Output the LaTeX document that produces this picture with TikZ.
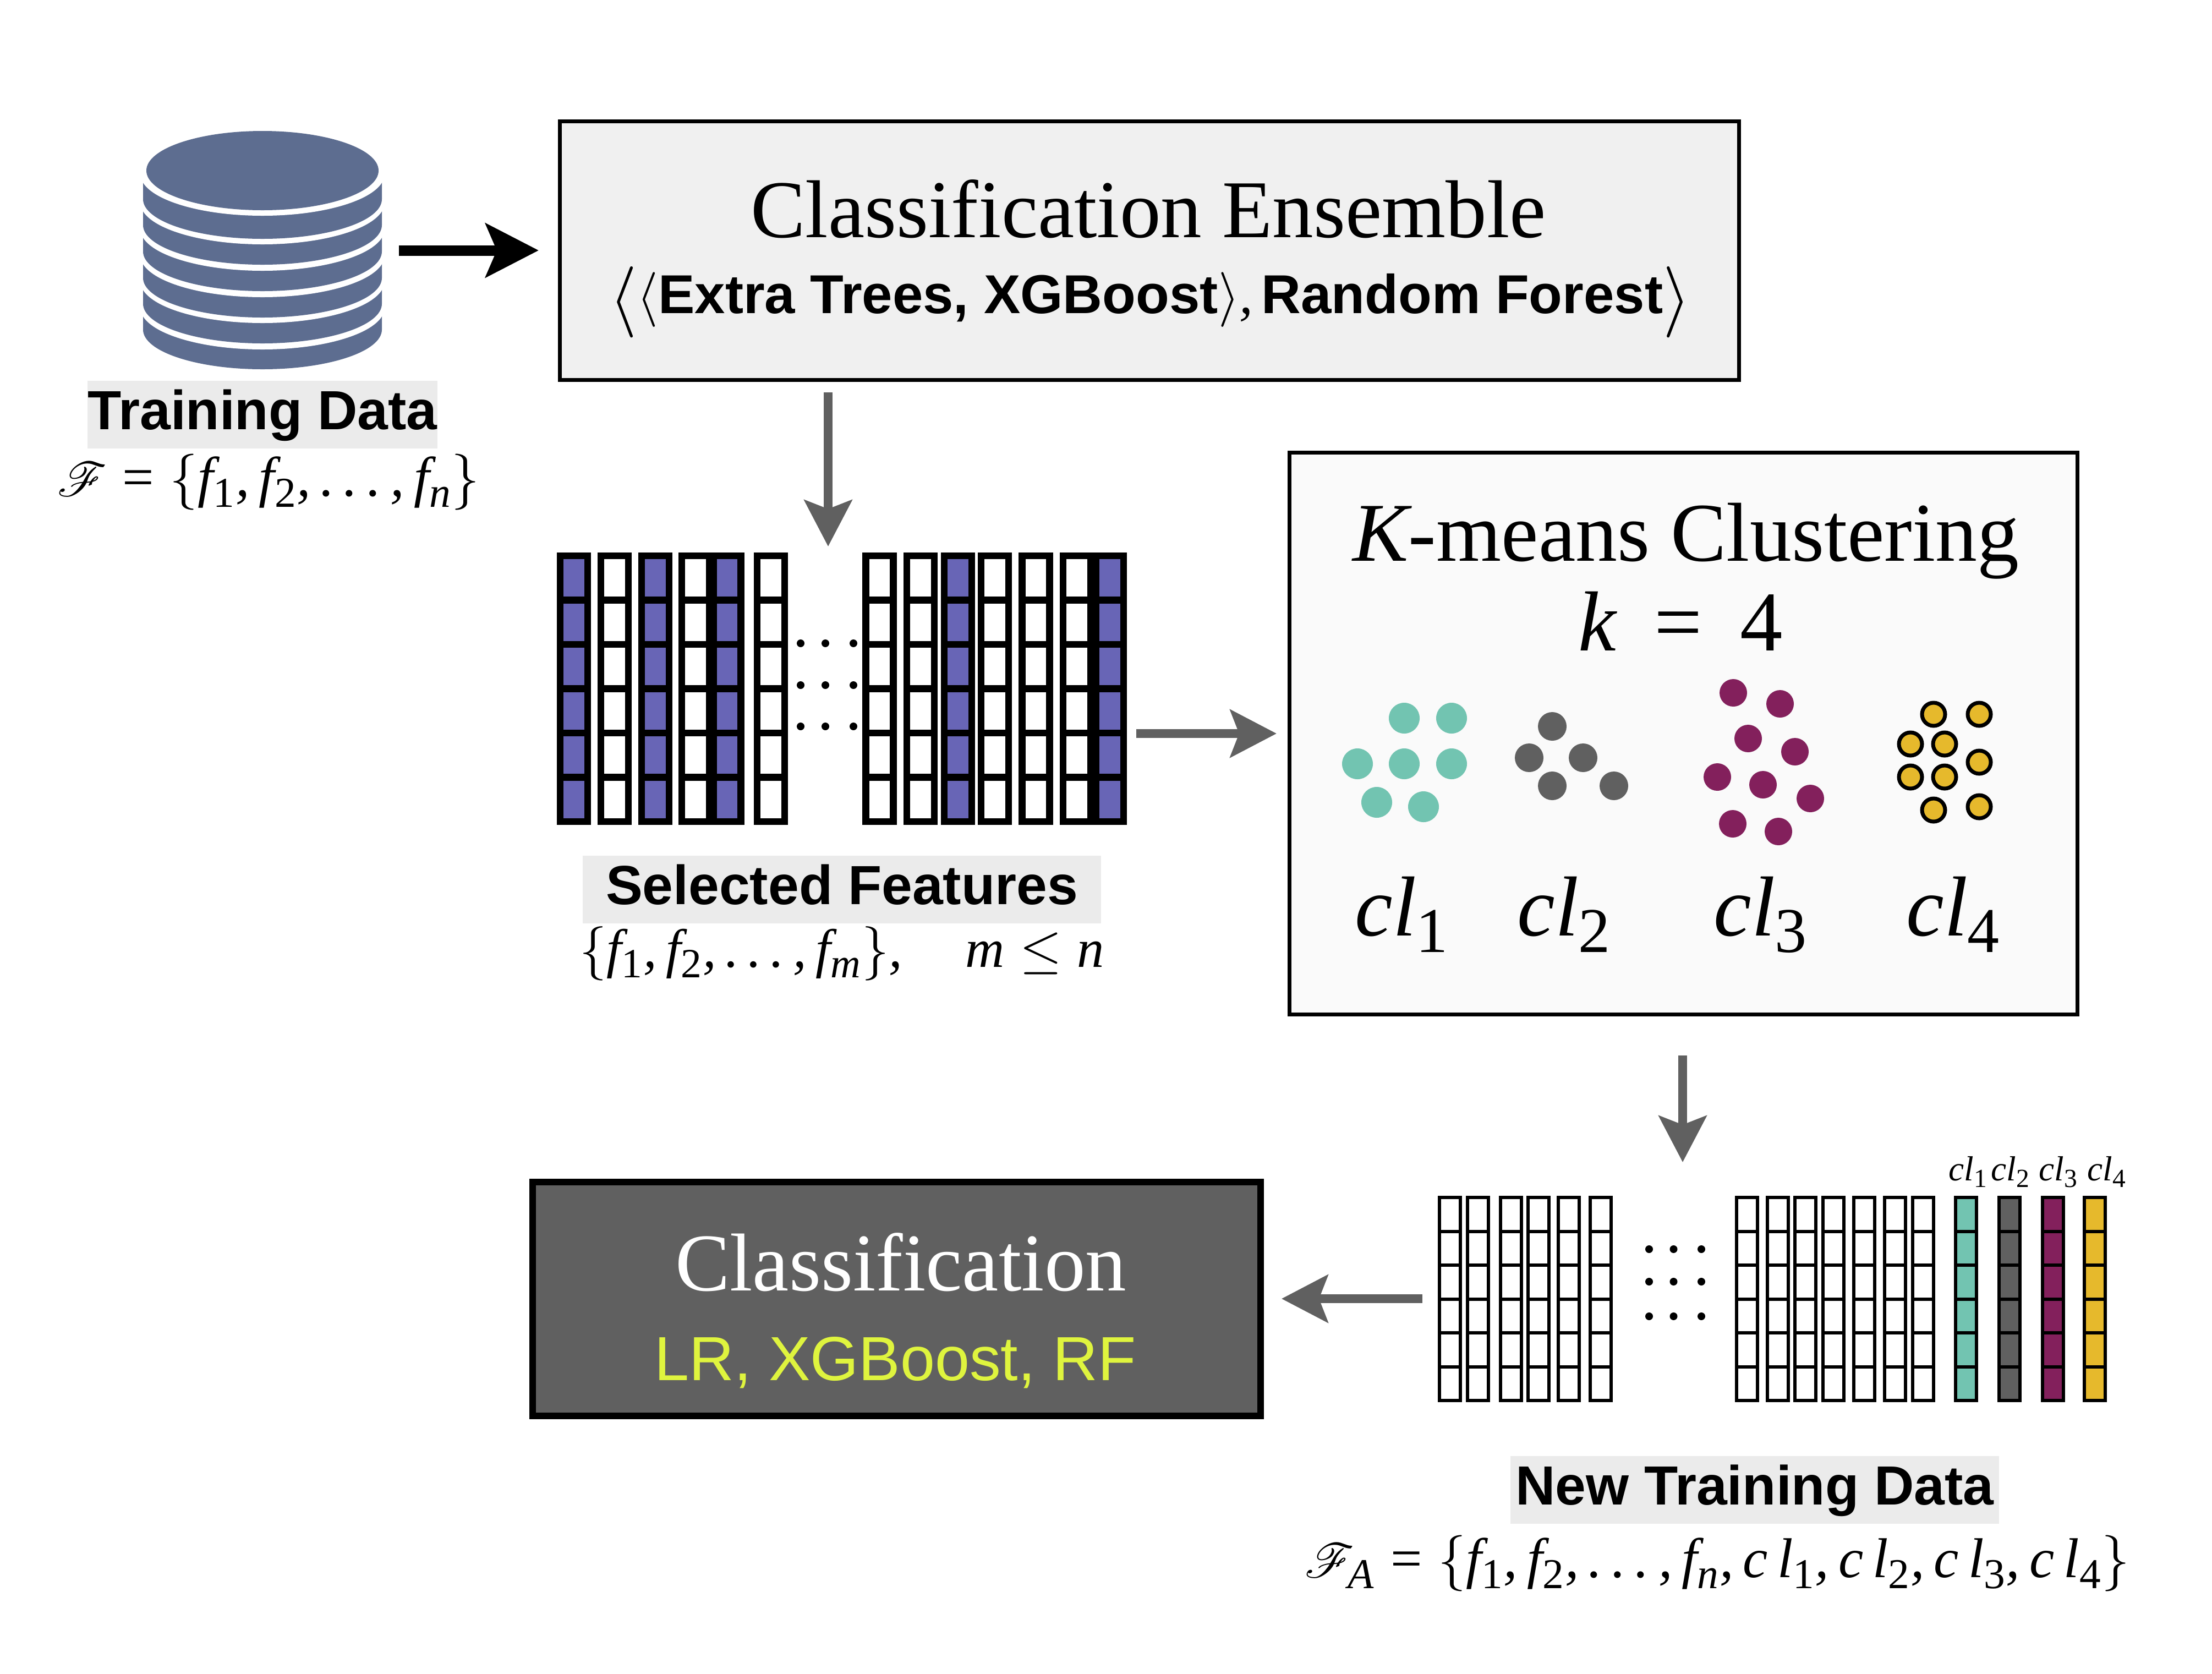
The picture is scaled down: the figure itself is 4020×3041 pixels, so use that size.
\documentclass[tikz,border=0pt]{standalone}
\usepackage{fix-cm}
\usepackage[no-math]{fontspec}
\usepackage{amsmath}
\usepackage{amssymb}
\usepackage{mathrsfs}
\usetikzlibrary{arrows.meta}
\setmainfont{Liberation Serif}
\newfontfamily\helv{Liberation Sans}
\DeclareSymbolFont{operators}{TU}{\rmdefault}{m}{n}
\DeclareSymbolFont{letters}{TU}{\rmdefault}{m}{it}
\mathcode`,="612C
\mathcode`.="012E
\mathchardef\ldotp="612E
\DeclareMathSizes{28}{28}{21.5}{16}
\DeclareMathSizes{29}{29}{22}{16}
\DeclareMathSizes{44}{44}{33}{24}
\DeclareMathSizes{18}{18}{13.5}{10}
\everymath{\fontdimen16\textfont2=0.2em}
\newcommand{\biglangle}{\raisebox{-0.13em}{\scalebox{1.3}{$\big\langle$}}}
\newcommand{\bigrangle}{\raisebox{-0.13em}{\scalebox{1.3}{$\big\rangle$}}}
\definecolor{dbblue}{HTML}{5D6D90}
\definecolor{fpurple}{HTML}{6865B6}
\definecolor{clteal}{HTML}{72C4B1}
\definecolor{clgray}{HTML}{606060}
\definecolor{clplum}{HTML}{83205C}
\definecolor{clgold}{HTML}{E6B92C}
\definecolor{lime}{HTML}{DFF43E}
\tikzset{
    mainbox/.style={draw=black,line width=0.07cm,inner sep=0pt},
    bigarrow/.style={line width=0.19cm,-{Stealth[length=0.96cm,width=0.97cm,inset=0.2cm]}},
    grayarrow/.style={draw=clgray,line width=0.16cm,-{Stealth[length=0.84cm,width=0.86cm,inset=0.16cm]}},
    taglabel/.style={fill=black!8,inner xsep=0pt,inner ysep=0pt,anchor=base,text height=25pt,text depth=10pt,
        font=\helv\bfseries\fontsize{28.5}{32}\selectfont},
    thickcell/.style={draw=black,line width=0.125cm},
    thincell/.style={draw=black,line width=0.06cm}
}
\begin{document}
\begin{tikzpicture}[x=0.01cm,y=-0.01cm]
    \useasboundingbox (0,0) rectangle (4020,3041);

    % database
    \foreach \yb/\yw in {671/635,624/587,577/540,529/492,481/444,434/392} {
        \fill[dbblue] (260,\yb-106) -- (260,\yb-72) arc[start angle=180,end angle=0,x radius=217,y radius=72] -- (694,\yb-106) -- cycle;
        \fill[white] (477,\yw-76) ellipse[x radius=222,y radius=76];
    }
    \fill[dbblue] (477,310) ellipse[x radius=211,y radius=72];
    \node[taglabel,minimum width=6.36cm] (traindata) at (477,780) {Training Data};
    \node[anchor=base,font=\fontsize{29}{33}\selectfont] (trainset) at (488,901) {$\mathscr{F}=\{f_1,f_2,\dots,f_n\}$};

    % ensemble
    \node[mainbox,fill=black!6,minimum width=21.42cm,minimum height=4.69cm] (ensemble) at (2089,455.5) {};
    \node[anchor=base,font=\fontsize{42.4}{48}\selectfont] (enstitle) at (2087,431) {Classification Ensemble};
    \node[anchor=base,font=\helv\bfseries\fontsize{28.3}{32}\selectfont] (enslist) at (2090,569)
        {\biglangle$\langle$Extra Trees, XGBoost$\rangle,$\hspace{0.15em}Random Forest\bigrangle};

    % selected features
    \foreach \cx/\cf in {1043/fpurple,1117/white,1191/fpurple,1264/white,1321.5/fpurple,1401/white,1598.5/white,1673/white,1741/fpurple,1808/white,1882.5/white,1957/white,2017/fpurple}
        \foreach \r in {0,...,5}
            \draw[thickcell,fill=\cf] (\cx-25,1010+80.5*\r) rectangle ++(50,80.5);
    \foreach \px in {1455,1500,1551}
        \foreach \py in {1169,1245,1320}
            \fill (\px,\py) circle[radius=7];
    \node[taglabel,minimum width=9.42cm] (selected) at (1530,1643) {Selected Features};
    \node[anchor=base,font=\fontsize{28}{32}\selectfont] (selset) at (1530,1757) {$\{f_1,f_2,\dots,f_m\},\quad m\leq n$};

    % clustering
    \node[mainbox,fill=black!2,minimum width=14.31cm,minimum height=10.2cm] (kmeans) at (3059.5,1333) {};
    \node[anchor=base,font=\fontsize{43.2}{48}\selectfont] (kmtitle) at (3064,1019) {$K$-means Clustering};
    \node[anchor=base,font=\fontsize{44}{50}\selectfont] (kmk) at (3054,1182) {$k\,=\,4$};
    \foreach \px/\py in {2552/1305,2638/1305,2467/1388,2552/1388,2638/1388,2502/1458,2587/1466}
        \fill[clteal] (\px,\py) circle[radius=28];
    \foreach \px/\py in {2821/1320,2779/1377,2877/1377,2821/1428,2933/1428}
        \fill[clgray] (\px,\py) circle[radius=26];
    \foreach \px/\py in {3150/1259,3235/1279,3177/1342,3262/1366,3121/1412,3204/1426,3290/1451,3149/1497,3232/1511}
        \fill[clplum] (\px,\py) circle[radius=25];
    \foreach \px/\py in {3514/1298,3597/1298,3472/1352,3534/1352,3597/1385,3472/1412,3534/1412,3514/1472,3597/1466}
        \draw[fill=clgold,line width=0.07cm] (\px,\py) circle[radius=21];
    \foreach \lx/\n in {2548/1,2843/2,3200/3,3550/4}
        \node[anchor=base,font=\fontsize{44}{50}\selectfont] (cl\n) at (\lx,1700) {$cl_{\n}$};

    % new training data
    \foreach \cx/\cf in {2635/white,2686/white,2746/white,2796/white,2851/white,2909/white,3175/white,3231/white,3281/white,3332/white,3388/white,3444/white,3495/white,3573/clteal,3652/clgray,3731/clplum,3807/clgold}
        \foreach \r in {0,...,5}
            \draw[thincell,fill=\cf] (\cx-19,2176+61.5*\r) rectangle ++(38,61.5);
    \foreach \px in {2997,3041.5,3092}
        \foreach \py in {2270,2329,2392}
            \fill (\px,\py) circle[radius=7];
    \foreach \lx/\n in {3577/1,3654/2,3741/3,3829/4}
        \node[anchor=base,font=\fontsize{18}{22}\selectfont] (smallcl\n) at (\lx,2145) {$cl_{\n}$};
    \node[taglabel,minimum width=8.88cm] (newdata) at (3189,2734) {New Training Data};
    \node[anchor=base,font=\fontsize{29}{33}\selectfont] (newset) at (3121,2866) {$\mathscr{F}_A=\{f_1,f_2,\dots,f_n,c\,l_1,c\,l_2,c\,l_3,c\,l_4\}$};

    % classification
    \node[mainbox,line width=0.12cm,fill=clgray,minimum width=13.23cm,minimum height=4.25cm] (classif) at (1629.5,2360.5) {};
    \node[anchor=base,text=white,font=\fontsize{42.4}{48}\selectfont] (cltitle) at (1637,2345) {Classification};
    \node[anchor=base,text=lime,font=\helv\fontsize{32.2}{38}\selectfont] (cllist) at (1627,2508) {LR, XGBoost, RF};

    % arrows
    \coordinate (dbout) at (725,455);
    \coordinate (ensin) at (979,455);
    \coordinate (ensout) at (1505,713);
    \coordinate (featin) at (1505,993);
    \coordinate (featout) at (2065,1333);
    \coordinate (kmin) at (2320,1333);
    \coordinate (kmout) at (3058,1918);
    \coordinate (newin) at (3058,2112);
    \coordinate (newout) at (2585,2360);
    \coordinate (clin) at (2329,2360);
    \draw[bigarrow] (dbout) -- (ensin);
    \draw[grayarrow] (ensout) -- (featin);
    \draw[grayarrow] (featout) -- (kmin);
    \draw[grayarrow] (kmout) -- (newin);
    \draw[grayarrow] (newout) -- (clin);
\end{tikzpicture}
\end{document}
